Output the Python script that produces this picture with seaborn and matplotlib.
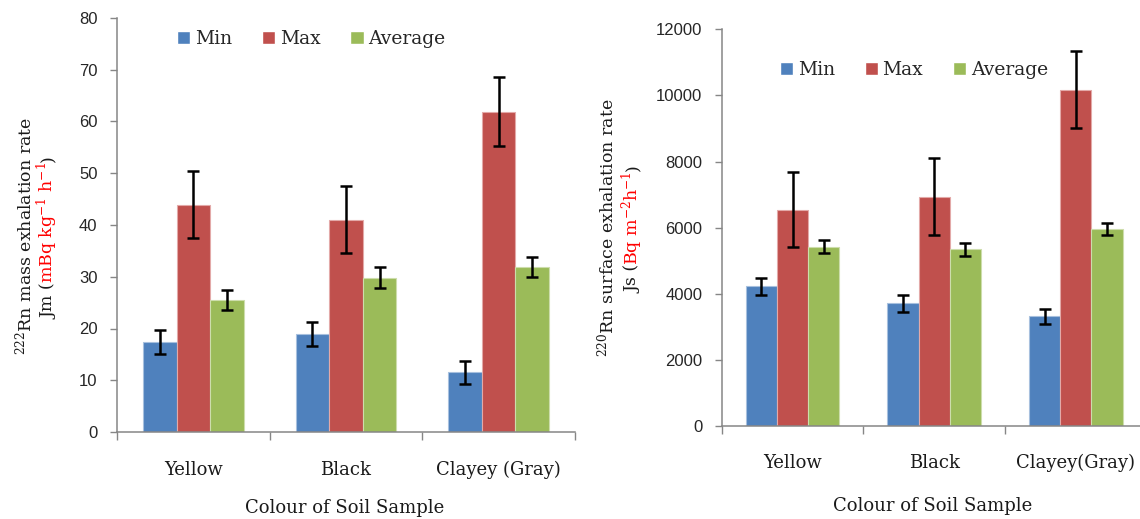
import matplotlib
matplotlib.use("Agg")
import matplotlib.pyplot as plt
import numpy as np
import pandas as pd
import seaborn as sns

# ---- data -------------------------------------------------------------
soil_left = ["Yellow", "Black", "Clayey (Gray)"]
soil_right = ["Yellow", "Black", "Clayey(Gray)"]
series = ["Min", "Max", "Average"]

# 222Rn mass exhalation rate (mBq kg-1 h-1)
mass_min = [17.4, 18.9, 11.5]
mass_max = [43.9, 41.0, 61.9]
mass_avg = [25.5, 29.8, 31.9]
mass_min_err = [2.3, 2.3, 2.3]
mass_max_err = [6.5, 6.5, 6.7]
mass_avg_err = [2.0, 2.0, 2.0]

# 220Rn surface exhalation rate (Bq m-2 h-1)
surf_min = [4230, 3720, 3320]
surf_max = [6550, 6940, 10180]
surf_avg = [5430, 5350, 5950]
surf_min_err = [260, 260, 240]
surf_max_err = [1130, 1160, 1150]
surf_avg_err = [200, 190, 180]

mass_ticks = list(range(0, 81, 10))
surf_ticks = list(range(0, 12001, 2000))

palette = {"Min": "#4F81BD", "Max": "#C0504D", "Average": "#9BBB59"}
edges = {"Min": "#A7C0DE", "Max": "#E3A9A8", "Average": "#CDDDAC"}

W, H = 1140, 519
SERIF = ["DejaVu Serif"]
SANS = ["Liberation Sans"]
AXIS_GREY = "#868686"

sns.set_theme(style="white")
plt.rcParams["font.family"] = SERIF
plt.rcParams["mathtext.fontset"] = "dejavuserif"

fig = plt.figure(figsize=(W / 100, H / 100), dpi=100)


def px_axes(x0, x1, ytop, ybot):
    return fig.add_axes([x0 / W, 1 - ybot / H, (x1 - x0) / W, (ybot - ytop) / H])


def long_frame(cats, mins, maxs, avgs):
    rows = []
    for s, vals in zip(series, (mins, maxs, avgs)):
        for c, v in zip(cats, vals):
            rows.append({"soil": c, "series": s, "value": v})
    return pd.DataFrame(rows)


def draw_panel(ax, cats, mins, maxs, avgs, errs, ticks, ymax,
               legend_xy, tick_pad, xlabel_y):
    df = long_frame(cats, mins, maxs, avgs)
    sns.barplot(data=df, x="soil", y="value", hue="series", order=cats,
                hue_order=series, palette=palette, width=0.66, gap=0,
                saturation=1, errorbar=None, ax=ax)
    for cont, s, err in zip(ax.containers, series, errs):
        xs, ys = [], []
        for bar in cont:
            bar.set_edgecolor(edges[s])
            bar.set_linewidth(0.8)
            xs.append(bar.get_x() + bar.get_width() / 2)
            ys.append(bar.get_height())
        ax.errorbar(xs, ys, yerr=err, fmt="none", ecolor="black",
                    elinewidth=1.8, capsize=4.3, capthick=1.8, zorder=5)

    ax.set_xlim(-0.5, len(cats) - 0.5)
    ax.set_ylim(0, ymax)
    ax.set_yticks(ticks)
    ax.set_yticklabels([str(t) for t in ticks], family=SANS, fontsize=12,
                       color="#262626")
    ax.tick_params(axis="y", which="major", direction="out", length=5,
                   width=1.0, color=AXIS_GREY, pad=9, left=True)

    # category boundaries as ticks, category names centred between them
    ax.set_xticks(np.arange(-0.5, len(cats), 1.0))
    ax.set_xticklabels([])
    ax.set_xticks(np.arange(len(cats)), minor=True)
    ax.set_xticklabels(cats, minor=True, family=SERIF, fontsize=13,
                       color="#1a1a1a")
    ax.tick_params(axis="x", which="major", direction="out", length=6,
                   width=1.0, color=AXIS_GREY, bottom=True)
    ax.tick_params(axis="x", which="minor", length=0, pad=tick_pad,
                   bottom=True)

    ax.set_xlabel("Colour of Soil Sample", family=SERIF, fontsize=13,
                  color="#1a1a1a")
    ax.xaxis.set_label_coords(0.497, xlabel_y)
    ax.set_ylabel("")

    for side in ("top", "right"):
        ax.spines[side].set_visible(False)
    for side in ("left", "bottom"):
        ax.spines[side].set_color(AXIS_GREY)
        ax.spines[side].set_linewidth(1.1)

    sns.move_legend(ax, "center", bbox_to_anchor=legend_xy, ncol=3,
                    frameon=False, title=None, fontsize=13.5,
                    handlelength=0.7, handleheight=0.7, handletextpad=0.25,
                    columnspacing=1.6, borderpad=0)


axL = px_axes(117, 575, 18, 432)
draw_panel(axL, soil_left, mass_min, mass_max, mass_avg,
           (mass_min_err, mass_max_err, mass_avg_err), mass_ticks, 80,
           (0.424, 0.949), 21, -0.163)

axR = px_axes(721.7, 1146.7, 29.3, 426.3)
draw_panel(axR, soil_right, surf_min, surf_max, surf_avg,
           (surf_min_err, surf_max_err, surf_avg_err), surf_ticks, 12000,
           (0.4525, 0.8975), 20, -0.178)


# ---- rotated, two-colour axis titles --------------------------------------
def rotated_line(pieces, x_base, y_center, size=12.5):
    """Stack coloured text pieces bottom-to-top along a shared baseline."""
    texts = []
    for s, col in pieces:
        t = fig.text(x_base / W, 0, s, rotation=90, rotation_mode="anchor",
                     ha="left", va="baseline", color=col, family=SERIF,
                     fontsize=size)
        texts.append(t)
    fig.canvas.draw()
    r = fig.canvas.get_renderer()
    lengths = [t.get_window_extent(r).height for t in texts]
    y = (H - y_center) - sum(lengths) / 2
    for t, L in zip(texts, lengths):
        t.set_position((x_base / W, y / H))
        y += L


RED = "#FF0000"
BLK = "#1a1a1a"
rotated_line([(r"$^{222}$Rn mass exhalation rate", BLK)], 31, 236)
rotated_line([("Jm (", BLK), (r"mBq kg$^{-1}$ h$^{-1}$", RED), (")", BLK)], 53, 237)
rotated_line([(r"$^{220}$Rn surface exhalation rate", BLK)], 613, 228)
rotated_line([("Js (", BLK), (r"Bq m$^{-2}$h$^{-1}$", RED), (")", BLK)], 638, 229)

fig.savefig("out.png", dpi=100, facecolor="white")
